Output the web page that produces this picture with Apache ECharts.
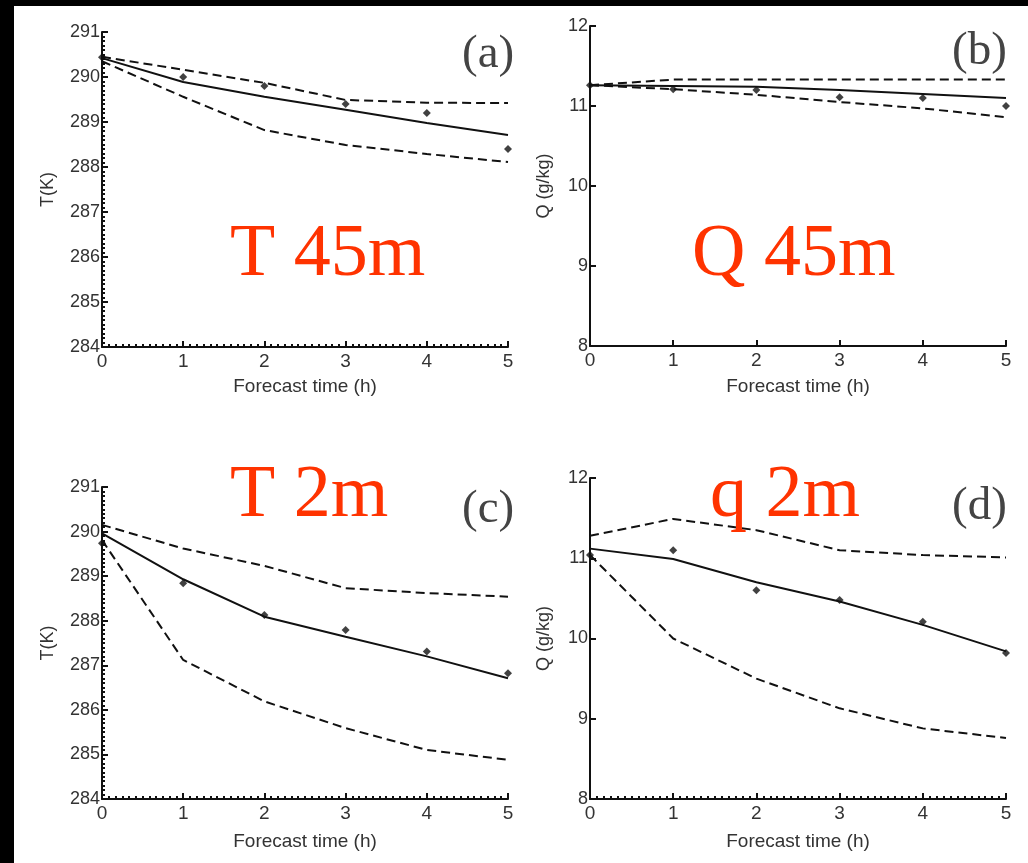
<!DOCTYPE html>
<html><head><meta charset="utf-8">
<script src="https://cdn.jsdelivr.net/npm/echarts@6/dist/echarts.min.js"></script>
<style>html,body{margin:0;padding:0;background:#000;}#c{width:1028px;height:863px;}</style>
</head><body><div id="c"></div>
<script>
// Forecast hours
const hours = [0, 1, 2, 3, 4, 5];
// (a) T 45m
const tA_mean  = [290.42, 289.89, 289.56, 289.27, 288.98, 288.71];
const tA_upper = [290.45, 290.16, 289.87, 289.49, 289.43, 289.42];
const tA_lower = [290.35, 289.56, 288.82, 288.49, 288.29, 288.11];
const tA_obs   = [290.44, 290.00, 289.80, 289.40, 289.20, 288.40];
// (b) Q 45m
const qB_mean  = [11.26, 11.25, 11.24, 11.20, 11.15, 11.10];
const qB_upper = [11.26, 11.33, 11.33, 11.33, 11.33, 11.33];
const qB_lower = [11.26, 11.21, 11.14, 11.05, 10.97, 10.86];
const qB_obs   = [11.26, 11.21, 11.20, 11.11, 11.10, 11.00];
// (c) T 2m
const tC_mean  = [289.96, 288.93, 288.09, 287.64, 287.20, 286.71];
const tC_upper = [290.15, 289.62, 289.23, 288.73, 288.62, 288.54];
const tC_lower = [289.81, 287.12, 286.19, 285.59, 285.10, 284.88];
const tC_obs   = [289.74, 288.84, 288.13, 287.79, 287.31, 286.82];
// (d) q 2m
const qD_mean  = [11.12, 10.99, 10.70, 10.46, 10.17, 9.84];
const qD_upper = [11.28, 11.49, 11.35, 11.10, 11.04, 11.01];
const qD_lower = [11.04, 10.00, 9.50, 9.13, 8.88, 8.76];
const qD_obs   = [11.04, 11.10, 10.60, 10.48, 10.21, 9.82];

const xName = 'Forecast time (h)';
const yNames = ['T(K)', 'Q (g/kg)', 'T(K)', 'Q (g/kg)'];
const yRanges = [[284, 291], [8, 12], [284, 291], [8, 12]];
const panelTags = ['(a)', '(b)', '(c)', '(d)'];
const bigTitles = ['T 45m', 'Q 45m', 'T 2m', 'q 2m'];

const panels = [
  {mean: tA_mean, upper: tA_upper, lower: tA_lower, obs: tA_obs},
  {mean: qB_mean, upper: qB_upper, lower: qB_lower, obs: qB_obs},
  {mean: tC_mean, upper: tC_upper, lower: tC_lower, obs: tC_obs},
  {mean: qD_mean, upper: qD_upper, lower: qD_lower, obs: qD_obs}
];

const grids = [
  {left: 102, top: 32, width: 406, height: 315},
  {left: 590, top: 26, width: 416, height: 320},
  {left: 102, top: 487, width: 406, height: 312},
  {left: 590, top: 478, width: 416, height: 321}
];
const xMinor = [true, false, true, true];
const yMinor = [true, false, true, false];
const xNameGap = [30, 31, 33, 33];
const yNameGap = [45, 37, 45, 37];

const axisFont = 'Liberation Sans, Arial, sans-serif';
const txtColor = '#333';

const xAxes = grids.map((g, i) => ({
  type: 'value', gridIndex: i, min: 0, max: 5, interval: 1,
  name: xName, nameLocation: 'middle', nameGap: xNameGap[i],
  nameTextStyle: {fontFamily: axisFont, fontSize: 19, color: txtColor},
  axisLine: {show: true, onZero: false, lineStyle: {color: '#111', width: 2}},
  axisTick: {show: true, inside: true, length: 6, lineStyle: {color: '#111', width: 2}},
  minorTick: {show: xMinor[i], splitNumber: 12, length: 3, lineStyle: {color: '#111', width: 2}},
  axisLabel: {fontFamily: axisFont, fontSize: 19, color: txtColor, margin: 5},
  splitLine: {show: false}
}));
const yAxes = grids.map((g, i) => ({
  type: 'value', gridIndex: i, min: yRanges[i][0], max: yRanges[i][1], interval: 1,
  name: yNames[i], nameLocation: 'middle', nameGap: yNameGap[i], nameRotate: 90,
  nameTextStyle: {fontFamily: axisFont, fontSize: 18, color: txtColor},
  axisLine: {show: true, onZero: false, lineStyle: {color: '#111', width: 2}},
  axisTick: {show: true, inside: true, length: 6, lineStyle: {color: '#111', width: 2}},
  minorTick: {show: yMinor[i], splitNumber: 10, length: 3, lineStyle: {color: '#111', width: 2}},
  axisLabel: {fontFamily: axisFont, fontSize: 18, color: txtColor, margin: 2},
  splitLine: {show: false}
}));

const series = [];
panels.forEach((p, i) => {
  const pts = arr => hours.map((h, k) => [h, arr[k]]);
  series.push({type: 'line', xAxisIndex: i, yAxisIndex: i, data: pts(p.upper), showSymbol: false, clip: false,
    lineStyle: {color: '#111', width: 2, type: [9, 5]}, silent: true});
  series.push({type: 'line', xAxisIndex: i, yAxisIndex: i, data: pts(p.lower), showSymbol: false, clip: false,
    lineStyle: {color: '#111', width: 2, type: [9, 5]}, silent: true});
  series.push({type: 'line', xAxisIndex: i, yAxisIndex: i, data: pts(p.mean), showSymbol: false, clip: false,
    lineStyle: {color: '#111', width: 2}, silent: true});
  series.push({type: 'scatter', xAxisIndex: i, yAxisIndex: i, data: pts(p.obs), symbol: 'diamond', symbolSize: 8, clip: false,
    itemStyle: {color: '#111'}, silent: true});
});

const tagPos = [[462, 55], [952, 52], [462, 510], [952, 507]];
const titlePos = [[230, 256], [692, 256], [230, 497], [710, 497]];
const graphics = [{type: 'rect', z: -10, shape: {x: 14, y: 6, width: 1014, height: 857}, style: {fill: '#fff'}, silent: true}];
panelTags.forEach((t, i) => graphics.push({type: 'text', z: 10, x: tagPos[i][0], y: tagPos[i][1],
  style: {text: t, font: '47px "Liberation Serif", "Times New Roman", serif', fill: '#444', align: 'left', verticalAlign: 'middle'}}));
bigTitles.forEach((t, i) => graphics.push({type: 'text', z: 10, x: titlePos[i][0], y: titlePos[i][1],
  style: {text: t, font: '74px "Liberation Serif", "Times New Roman", serif', fill: '#ff3300', align: 'left', verticalAlign: 'middle'}}));

const chart = echarts.init(document.getElementById('c'));
chart.setOption({
  backgroundColor: '#000',
  animation: false,
  grid: grids.map(g => Object.assign({containLabel: false}, g)),
  xAxis: xAxes, yAxis: yAxes, series: series, graphic: graphics
});
</script></body></html>
